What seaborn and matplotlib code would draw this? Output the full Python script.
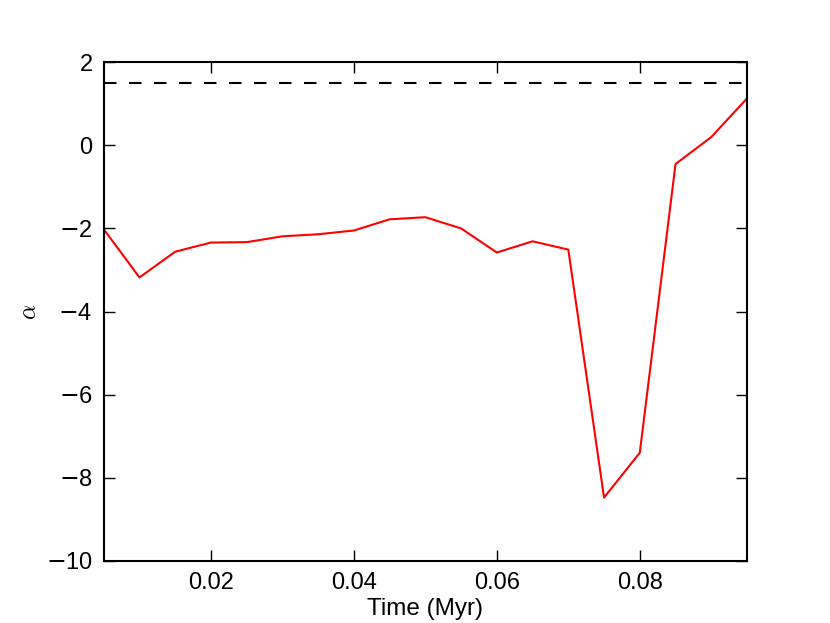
import numpy as np
import pandas as pd
import matplotlib
matplotlib.use("Agg")
import matplotlib.pyplot as plt
import seaborn as sns

# valores
time_myr = [0.005, 0.010, 0.015, 0.020, 0.025, 0.030, 0.035, 0.040, 0.045, 0.050,
            0.055, 0.060, 0.065, 0.070, 0.075, 0.080, 0.085, 0.090, 0.095]
alpha = [-2.02, -3.18, -2.56, -2.34, -2.33, -2.19, -2.14, -2.05, -1.78, -1.73,
         -2.00, -2.58, -2.31, -2.51, -8.48, -7.40, -0.45, 0.20, 1.13]
alpha_ref = 1.5
xticks = [0.02, 0.04, 0.06, 0.08]
yticks = [-10, -8, -6, -4, -2, 0, 2]

sns.set_style("ticks")
plt.rcParams['font.family'] = ['Liberation Sans', 'DejaVu Sans']
plt.rcParams['mathtext.fontset'] = 'dejavusans'
plt.rcParams['text.color'] = 'black'
plt.rcParams['axes.labelcolor'] = 'black'
plt.rcParams['xtick.color'] = 'black'
plt.rcParams['ytick.color'] = 'black'

df = pd.DataFrame({"time": time_myr, "alpha": alpha})

fig, ax = plt.subplots(figsize=(8.3, 6.23), dpi=100)
fig.subplots_adjust(left=0.125, right=0.9, bottom=0.1, top=0.9)

sns.lineplot(data=df, x="time", y="alpha", color="red", linewidth=1.5, ax=ax)
ax.axhline(alpha_ref, color="black", linestyle="--", dashes=(6, 6), linewidth=1.5)

ax.set_xlim(0.005, 0.095)
ax.set_ylim(-10, 2)
ax.set_xticks(xticks)
ax.set_xticklabels([f"{t:.2f}" for t in xticks])
ax.set_yticks(yticks)
ax.set_yticklabels(["$-$" + str(abs(t)) if t < 0 else str(t) for t in yticks])
ax.tick_params(direction="in", length=8, width=1, top=True, right=True, labelsize=17, pad=8)
for s in ax.spines.values():
    s.set_linewidth(1.5)
    s.set_color("black")

ax.set_xlabel("Time (Myr)", fontsize=17.5, labelpad=3)
ax.set_ylabel(r"$\alpha$", fontsize=17, labelpad=3, math_fontfamily='cm')

fig.savefig("out.png", dpi=100, facecolor="white")
